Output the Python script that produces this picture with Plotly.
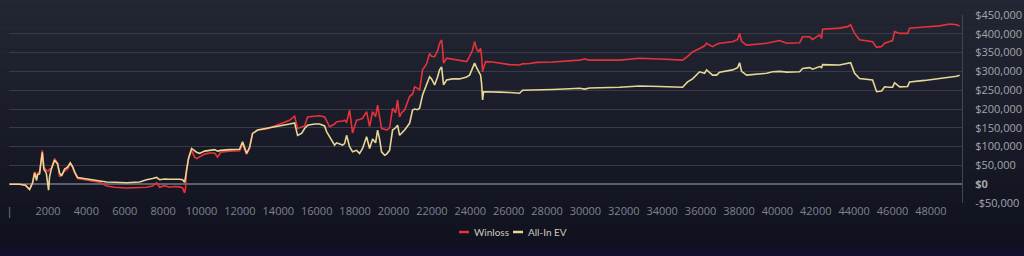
import plotly.graph_objects as go

hands = [0, 521, 834, 1042, 1198, 1303, 1407, 1459, 1563, 1704, 1787, 1912, 2032, 2084, 2173, 2345,
         2501, 2605, 2709, 2866, 3022, 3162, 3282, 3387, 3543, 3908, 4168, 4689, 5054, 5471, 6096,
         6773, 7138, 7450, 7659, 7815, 8076, 8336, 8597, 8857, 9013, 9118, 9170, 9222, 9326, 9482,
         9639, 9743, 9899, 10160, 10420, 10681, 10837, 10993, 11462, 11983, 12139, 12244, 12348,
         12504, 12660, 12921, 13390, 13702, 14223, 14588, 14849, 15005, 15213, 15370, 15526, 15891,
         16151, 16412, 16516, 16672, 16933, 17037, 17349, 17454, 17558, 17714, 17870, 18079, 18235,
         18391, 18600, 18756, 18912, 19069, 19173, 19277, 19381, 19538, 19642, 19798, 19954, 20111,
         20215, 20319, 20423, 20580, 20736, 20840, 20996, 21101, 21257, 21361, 21517, 21726, 21882,
         21986, 22143, 22299, 22403, 22507, 22559, 22611, 22768, 23080, 23445, 23810, 23966, 24122,
         24227, 24331, 24435, 24539, 24591, 24643, 24695, 24800, 25164, 25529, 26050, 26571, 26727,
         27092, 27457, 28290, 29176, 29697, 29958, 30218, 31781, 32823, 33865, 35063, 35324, 35584,
         35949, 36210, 36314, 36626, 36835, 36991, 37668, 37929, 38033, 38137, 38398, 39075, 39440,
         39752, 40117, 40482, 41159, 41315, 41680, 41836, 42201, 42305, 42357, 43243, 43660, 43816,
         44025, 44285, 44962, 45171, 45431, 45588, 45848, 46004, 46108, 46369, 46786, 46890, 47672,
         48453, 48974, 49339, 49495]

winloss = [0, 0, -3, -14, 5, 33, 20, 30, 33, 90, 45, 37, 35, 40, 42, 68, 56, 20, 25, 35, 40, 55, 45,
           30, 15, 12, 11, 5, -5, -8, -10, -9, -8, -5, 4, -8, -4, -8, -6, -7, -10, -23, -10, 40, 68,
           90, 72, 68, 73, 80, 83, 83, 72, 85, 88, 89, 105, 90, 80, 95, 135, 144, 147, 153, 163, 170,
           181, 148, 152, 155, 179, 180, 182, 179, 170, 153, 160, 166, 168, 170, 165, 197, 136, 170,
           172, 175, 193, 153, 193, 180, 210, 180, 148, 146, 144, 150, 202, 190, 224, 179, 190, 197,
           220, 233, 240, 259, 255, 250, 304, 320, 348, 340, 339, 355, 375, 384, 360, 322, 335, 332,
           330, 326, 340, 357, 379, 360, 352, 361, 340, 299, 310, 326, 325, 322, 318, 317, 320, 321,
           324, 325, 328, 330, 333, 330, 330, 335, 333, 330, 340, 352, 361, 368, 375, 366, 372, 375,
           379, 385, 401, 380, 370, 372, 375, 378, 382, 375, 376, 392, 392, 385, 397, 388, 412, 415,
           419, 424, 401, 384, 379, 364, 366, 375, 380, 382, 406, 401, 401, 415, 418, 421, 426, 424,
           421]

allin_ev = [0, 0, -3, -14, 3, 30, 10, 25, 28, 85, 40, 30, -16, 20, 40, 64, 54, 30, 22, 40, 45, 57, 47,
            33, 18, 15, 14, 10, 6, 5, 4, 6, 12, 15, 18, 12, 14, 13, 14, 13, 12, 5, 20, 40, 70, 95,
            88, 85, 82, 88, 90, 92, 88, 90, 92, 93, 113, 95, 82, 98, 135, 144, 148, 151, 157, 160,
            163, 130, 135, 148, 157, 160, 160, 155, 140, 126, 104, 110, 104, 108, 130, 100, 86, 90, 82,
            95, 126, 95, 120, 110, 144, 120, 86, 77, 80, 90, 144, 150, 157, 130, 135, 144, 155, 162,
            197, 200, 198, 202, 237, 265, 286, 280, 264, 285, 304, 312, 290, 264, 277, 280, 280, 285,
            290, 308, 322, 310, 300, 290, 268, 224, 246, 246, 245, 245, 244, 242, 250, 250, 251, 252,
            254, 255, 253, 256, 258, 261, 260, 258, 272, 280, 299, 295, 304, 290, 290, 298, 304, 310,
            323, 300, 290, 292, 295, 299, 300, 298, 299, 308, 310, 306, 313, 310, 318, 317, 320, 323,
            295, 281, 277, 246, 248, 259, 258, 258, 270, 259, 260, 272, 276, 281, 286, 287, 290]

series_names = ["Winloss", "All-In EV"]
series_colors = ["#e8323a", "#e6d795"]

y_ticks = [-50000, 0, 50000, 100000, 150000, 200000, 250000, 300000, 350000, 400000, 450000]
y_labels = ["-$50,000", "<b>$0</b>", "$50,000", "$100,000", "$150,000", "$200,000", "$250,000",
            "$300,000", "$350,000", "$400,000", "$450,000"]
x_ticks = list(range(0, 49000, 2000))
x_labels = ["|"] + [str(v) for v in x_ticks[1:]]

fig = go.Figure()
for name, vals, col in zip(series_names, [winloss, allin_ev], series_colors):
    fig.add_trace(go.Scatter(x=hands, y=[v * 1000 for v in vals], name=name, mode="lines",
                             line=dict(color=col, width=1.6), showlegend=False))

W, H = 1024, 256
L, R, T, B = 9, 62, 15, 53
ph = H - T - B
pw = W - L - R


def py(px_y):
    return (H - B - px_y) / ph


def px(px_x):
    return (px_x - L) / pw


# background gradient bands (paper coords extend into margins)
top_c = (0x23, 0x27, 0x33)
bot_c = (0x10, 0x11, 0x1e)
n = 40
y_top, y_bot = py(0), py(247)
shapes = []
for i in range(n):
    t = i / (n - 1)
    c = tuple(int(round(top_c[k] + (bot_c[k] - top_c[k]) * t)) for k in range(3))
    y1 = y_top - (y_top - y_bot) * i / n
    y0 = y_top - (y_top - y_bot) * (i + 1) / n
    shapes.append(dict(type="rect", xref="paper", yref="paper", x0=px(-5), x1=px(1030), y0=y0, y1=y1,
                       fillcolor="rgb(%d,%d,%d)" % c, line=dict(width=0), layer="below"))
shapes.append(dict(type="rect", xref="paper", yref="paper", x0=px(-5), x1=px(1030), y0=py(260), y1=y_bot,
                   fillcolor="#110f2c", line=dict(width=0), layer="below"))

# compact legend drawn below the plot
legend_items = [(459, 469, 472), (513, 523, 526)]
annotations = []
for (a, b, tx), name, col in zip(legend_items, series_names, series_colors):
    shapes.append(dict(type="line", xref="paper", yref="paper", x0=px(a), x1=px(b), y0=py(232), y1=py(232),
                       line=dict(color=col, width=2.5), layer="above"))
    annotations.append(dict(xref="paper", yref="paper", x=px(tx), y=py(232), text=name, showarrow=False,
                            xanchor="left", yanchor="middle",
                            font=dict(family="Lato", size=10, color="#cfcabb")))

fig.update_layout(
    width=W, height=H,
    margin=dict(l=L, r=R, t=T, b=B, autoexpand=False),
    paper_bgcolor="#1a1d29", plot_bgcolor="rgba(0,0,0,0)",
    shapes=shapes, annotations=annotations,
    showlegend=False,
    font=dict(family="Open Sans", size=11, color="#8c8f9b"),
)
fig.update_xaxes(range=[-30, 49620], tickvals=x_ticks, ticktext=x_labels, showgrid=False,
                 zeroline=False, showline=False, ticks="", ticklabelstandoff=0,
                 tickfont=dict(size=11, color="#80838f"))
fig.update_yaxes(side="right", range=[-50000, 450000], tickvals=y_ticks, ticktext=y_labels,
                 showgrid=True, gridcolor="#373b48", gridwidth=1,
                 zeroline=True, zerolinecolor="#5b5f6b", zerolinewidth=1.5,
                 showline=True, linecolor="#424652", linewidth=1, mirror=False,
                 ticks="outside", ticklen=10, tickcolor="rgba(0,0,0,0)",
                 tickfont=dict(size=11, color="#a3a5ad"))

fig.write_html("out.html")
